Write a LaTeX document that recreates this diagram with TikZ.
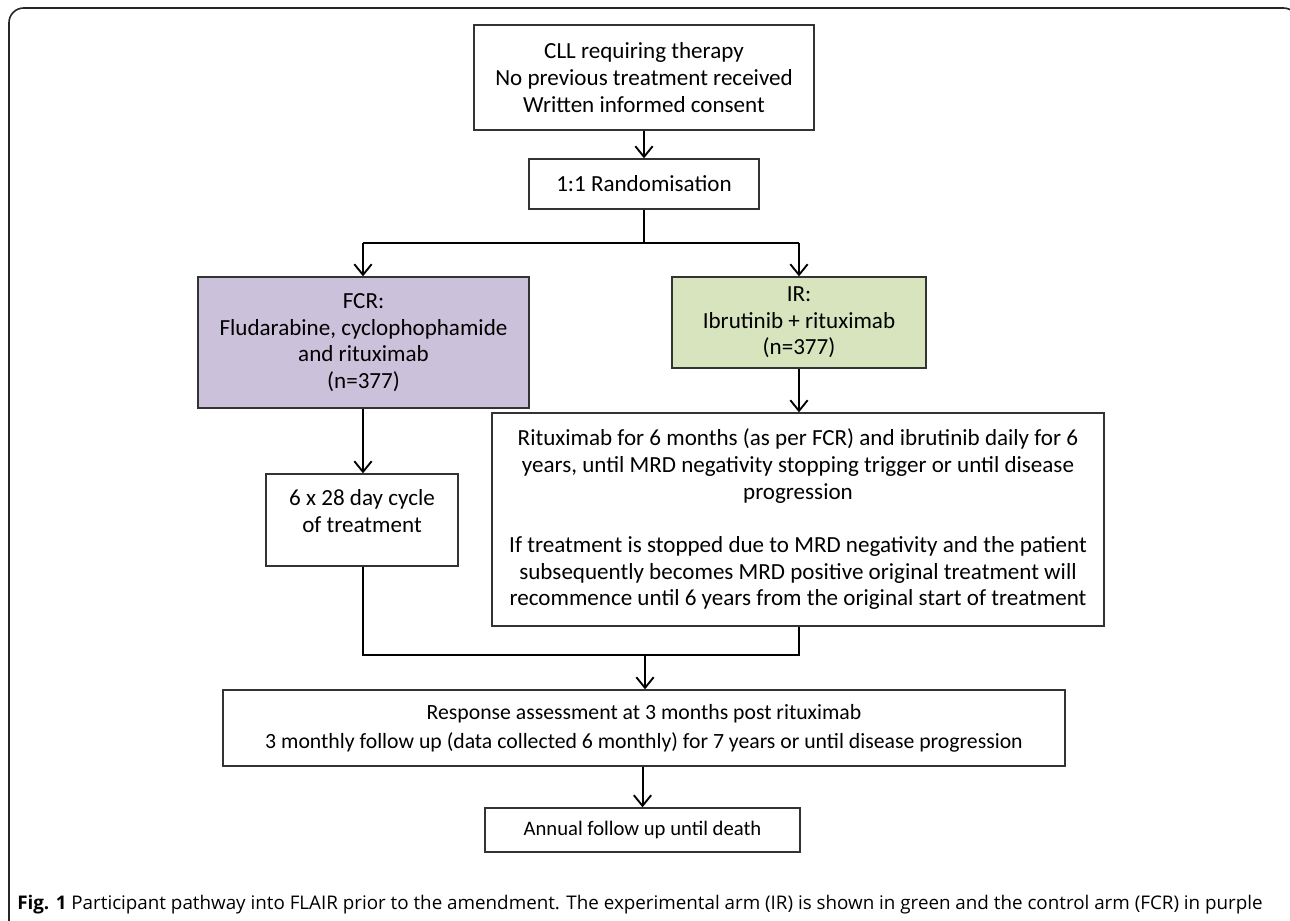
\documentclass[tikz,border=0pt]{standalone}
\usepackage{fontspec}
\setmainfont{Carlito}
\newfontfamily\capfont{Open Sans}
\usetikzlibrary{arrows.meta}
\definecolor{fcrpurple}{HTML}{CCC1DA}
\definecolor{irgreen}{HTML}{D7E4BD}
\definecolor{boxline}{HTML}{333333}
\begin{document}
\begin{tikzpicture}[x=0.75pt,y=-0.75pt,
  box/.style={draw=boxline, line width=1pt, fill=white, align=center, inner sep=0pt,
    font=\fontsize{17.3pt}{20pt}\selectfont},
  respfont/.style={font=\fontsize{16.3pt}{21.5pt}\selectfont},
  smallfont/.style={font=\fontsize{15.5pt}{21.5pt}\selectfont},
  conn/.style={draw=black, line width=1.5pt},
  arr/.style={conn, -{Straight Barb[length=8pt,width=13pt,line width=1.4pt]}}]
\useasboundingbox (0,0) rectangle (1290,921);
% frame
\draw[line width=1.2pt, rounded corners=11pt, draw=black!85] (9,930) -- (9,8) -- (1298,8) -- (1298,930);
% boxes
\node[box, minimum width=255pt, minimum height=78.75pt] (top) at (644,77.5)
  {CLL requiring therapy\\No previous treatment received\\Written informed consent};
\node[box, minimum width=172.5pt, minimum height=37.5pt] (rand) at (644,184)
  {1:1 Randomisation};
\node[box, fill=fcrpurple, minimum width=248.25pt, minimum height=98.25pt] (fcr) at (363.5,342.5)
  {FCR:\\Fludarabine, cyclophophamide\\and rituximab\\(n=377)};
\node[box, fill=irgreen, minimum width=190.5pt, minimum height=68.25pt] (ir) at (799,322.5)
  {IR:\\Ibrutinib + rituximab\\(n=377)};
\node[box, minimum width=144pt, minimum height=69pt] (cyc) at (362,520)
  {6 x 28 day cycle\\of treatment\\[-6pt]\mbox{}};
\node[box, minimum width=459pt, minimum height=159.75pt] (big) at (798,519.5)
  {Rituximab for 6 months (as per FCR) and ibrutinib daily for 6\\
   years, until MRD negativity stopping trigger or until disease\\
   progression\\[20pt]
   If treatment is stopped due to MRD negativity and the patient\\
   subsequently becomes MRD positive original treatment will\\
   recommence until 6 years from the original start of treatment};
\node[box, respfont, minimum width=631.5pt, minimum height=57pt] (resp) at (644,728)
  {Response assessment at 3 months post rituximab\\
   3 monthly follow up (data collected 6 monthly) for 7 years or until disease progression};
\node[box, smallfont, minimum width=236.25pt, minimum height=33pt] (ann) at (642.5,830)
  {Annual follow up until death};
% junction coordinates
\coordinate (split) at (644,243);
\coordinate (splitL) at (363,243);
\coordinate (splitR) at (799,243);
\coordinate (mergeL) at (363,655);
\coordinate (mergeR) at (799,655);
\coordinate (merge) at (645,655);
% connectors
\draw[arr] (top.south) -- (rand.south |- rand.north);
\draw[conn] (rand.south) -- (split);
\draw[conn] (splitL) -- (splitR);
\draw[arr] (splitL) -- (splitL |- fcr.north);
\draw[arr] (splitR) -- (splitR |- ir.north);
\draw[arr] (fcr.south -| splitL) -- (splitL |- cyc.north);
\draw[arr] (ir.south -| splitR) -- (splitR |- big.north);
\draw[conn] (splitL |- cyc.south) -- (mergeL) -- (mergeR) -- (splitR |- big.south);
\draw[arr] (merge) -- (merge |- resp.north);
\draw[arr] (resp.south -| ann.north) -- (ann.north);
% caption
\node[anchor=base west, inner sep=0pt, font=\capfont\fontsize{14.1pt}{16pt}\selectfont] (cap) at (17,909)
  {\textbf{Fig. 1} Participant pathway into FLAIR prior to the amendment. The experimental arm (IR) is shown in green and the control arm (FCR) in purple};
\end{tikzpicture}
\end{document}
